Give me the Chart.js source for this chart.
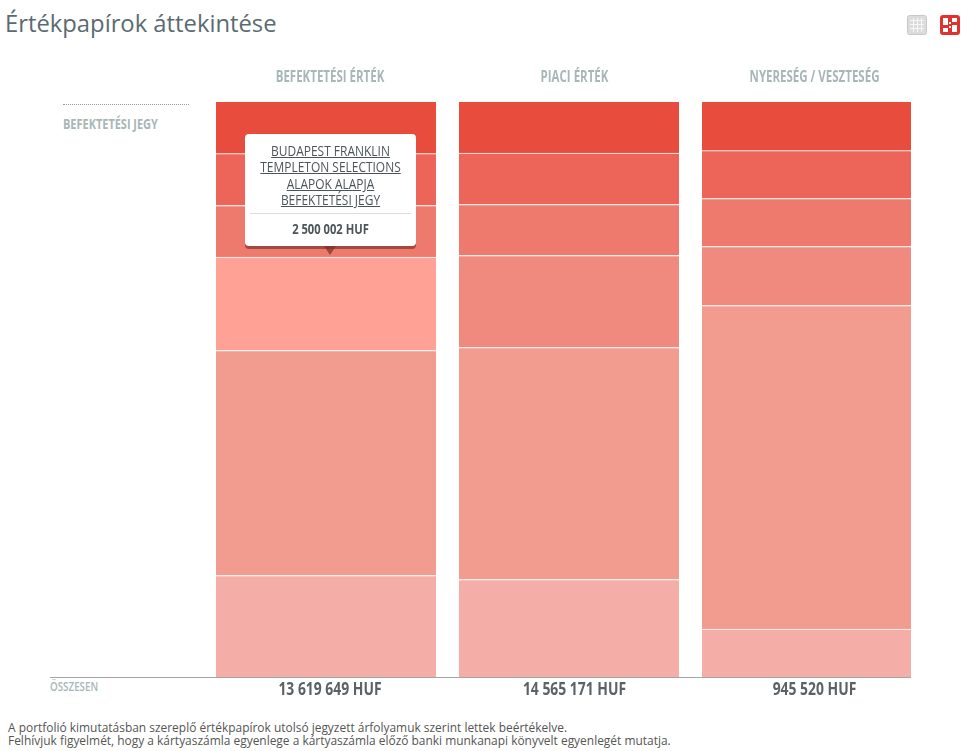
<!DOCTYPE html>
<html lang="hu">
<head>
<meta charset="utf-8">
<title>Értékpapírok áttekintése</title>
<script src="https://cdn.jsdelivr.net/npm/chart.js@4"></script>
<style>
    html, body { margin: 0; padding: 0; background: #fff; }
    body { position: relative; width: 964px; height: 751px; overflow: hidden; font-family: "Open Sans", sans-serif; }
    canvas { position: absolute; top: 60px; }
    .narrow { position: absolute; font-weight: bold; color: #a9b6b8; white-space: nowrap; transform-origin: left center; }
    #pageTitle { position: absolute; left: 5px; top: 7px; font-size: 23.8px; line-height: 33px; color: #5b6b72; }
    #icons { position: absolute; left: 906px; top: 14px; }
    #jegy { left: 63px; top: 115px; font-size: 15px; line-height: 16px; transform: scaleX(.73); }
    #dots { position: absolute; left: 63px; top: 104px; width: 126px; border-top: 1px dotted #999; }
    #osszesen { left: 50px; top: 679px; font-size: 13px; line-height: 15px; font-weight: 600; transform: scaleX(.754); }
    #baseline { position: absolute; left: 50px; top: 677px; width: 861px; height: 1px; background: #a5a5a5; }
    #note { position: absolute; left: 8px; top: 721px; font-size: 11.94px; line-height: 13px; color: #555; white-space: nowrap; }
    #tip { position: absolute; width: 171px; height: 112px; background: #fff; border-radius: 4px; box-shadow: 0 3px 0 rgba(120, 50, 40, .65); text-align: center; color: #4c5558; display: none; }
    #tip:after { content: ""; position: absolute; left: 79px; top: 112px; border: 6px solid transparent; border-top: 9px solid rgba(120, 50, 40, .7); border-bottom: 0; }
    #tipName { margin-top: 9px; height: 66px; font-size: 14px; line-height: 16.4px; text-decoration: underline; white-space: nowrap; transform: scaleX(.854); }
    #tipRule { margin: 4px 5px 0; border-top: 1px solid #ddd; }
    #tipValue { margin-top: 7px; font-size: 14px; line-height: 16px; font-weight: bold; white-space: nowrap; transform: scaleX(.8); }
</style>
</head>
<body>
<div id="pageTitle">Értékpapírok áttekintése</div>
<svg id="icons" width="54" height="22" viewBox="0 0 54 22">
    <rect x="1.500" y="1.500" width="19" height="19" rx="2" fill="#dcdcdc" stroke="#c9c9c9"/>
    <path d="M4 6.500h14M4 10.500h14M4 14.500h14M7.500 4v14M11.500 4v14M15.500 4v14" stroke="#f6f6f6" fill="none"/>
    <rect x="34" y="1" width="20" height="20" rx="3" fill="#e2322f"/>
    <path d="M37 4h5v7h-5zM46 4h5v4h-5zM37 14h5v4h-5zM46 11h5v7h-5zM43 8h2v2h-2zM43 12h2v2h-2z" fill="#fff"/>
</svg>
<div id="dots"></div>
<div id="jegy" class="narrow">BEFEKTETÉSI JEGY</div>
<div id="osszesen" class="narrow">ÖSSZESEN</div>

<canvas id="ertekChart" width="220" height="645" style="left:216px"></canvas>
<canvas id="piaciChart" width="220" height="645" style="left:459px"></canvas>
<canvas id="nyeresegChart" width="209" height="645" style="left:702px"></canvas>

<div id="baseline"></div>
<div id="note">A portfolió kimutatásban szereplő értékpapírok utolsó jegyzett árfolyamuk szerint lettek beértékelve.<br>Felhívjuk figyelmét, hogy a kártyaszámla egyenlege a kártyaszámla előző banki munkanapi könyvelt egyenlegét mutatja.</div>

<div id="tip">
    <div id="tipName"></div>
    <div id="tipRule"></div>
    <div id="tipValue"></div>
</div>

<script>
// share of each column in percent, bottom segment first
const columnTitles = ['BEFEKTETÉSI ÉRTÉK', 'PIACI ÉRTÉK', 'NYERESÉG / VESZTESÉG'];
const columnTotals = ['13 619 649 HUF', '14 565 171 HUF', '945 520 HUF'];
const ertekShares = [17.65, 39.13, 16.26, 8.96, 9.04, 8.96];
const piaciShares = [16.95, 40.35, 16.0, 8.87, 8.96, 8.87];
const nyeresegShares = [8.35, 56.26, 10.26, 8.35, 8.35, 8.43];
const segmentColors = ['#f4aea7', '#f29c90', '#f08a7e', '#ee7a6d', '#ec6558', '#e74c3c'];
const hoverColor = '#ffa195';
const tipLines = ['BUDAPEST FRANKLIN', 'TEMPLETON SELECTIONS', 'ALAPOK ALAPJA', 'BEFEKTETÉSI JEGY'];
const tipValue = '2 500 002 HUF';

// the labels sit a little right of the bars in the original, and no condensed font is installed
const labelShift = [4, 5.5, 8];

function squeezedText(ctx, text, x, y, font, color, squeeze) {
    ctx.save();
    ctx.translate(x, y);
    ctx.scale(squeeze, 1);
    ctx.font = font;
    ctx.fillStyle = color;
    ctx.textAlign = 'center';
    ctx.textBaseline = 'middle';
    ctx.fillText(text, 0, 0);
    ctx.restore();
}

const columnLabels = {
    id: 'columnLabels',
    afterDraw(chart, args, opts) {
        const x = chart.scales.x.getPixelForTick(0) + labelShift[opts.index];
        const area = chart.chartArea;
        squeezedText(chart.ctx, columnTitles[opts.index], x, area.top - 24,
            'bold 15.5px "Open Sans"', '#a9b6b8', 0.742);
        squeezedText(chart.ctx, columnTotals[opts.index], x, area.bottom + 13,
            'bold 17.5px "Open Sans"', '#5a6265', 0.794);
    }
};

function showTip(context) {
    const tip = document.getElementById('tip');
    const model = context.tooltip;
    if (model.opacity === 0) {
        tip.style.display = 'none';
        return;
    }
    const canvas = context.chart.canvas;
    document.getElementById('tipName').innerHTML = tipLines.join('<br>');
    document.getElementById('tipValue').textContent = tipValue;
    tip.style.display = 'block';
    tip.style.left = (canvas.offsetLeft + model.caretX + labelShift[0] - 85.5) + 'px';
    tip.style.top = (canvas.offsetTop + model.caretY - 123) + 'px';
}

function drawColumn(id, index, shares) {
    return new Chart(document.getElementById(id), {
        type: 'bar',
        data: {
            labels: [columnTotals[index]],
            datasets: shares.map((share, i) => ({
                label: 'Értékpapír ' + (i + 1),
                data: [share],
                backgroundColor: segmentColors[i],
                hoverBackgroundColor: hoverColor,
                borderColor: '#fff',
                hoverBorderColor: '#fff',
                borderWidth: i === shares.length - 1 ? 0 : { top: 1 },
                borderSkipped: false
            }))
        },
        plugins: [columnLabels],
        options: {
            responsive: false,
            animation: false,
            barPercentage: 1,
            categoryPercentage: 1,
            layout: { padding: { top: 42 } },
            plugins: {
                legend: { display: false },
                tooltip: { enabled: false, external: showTip },
                columnLabels: { index }
            },
            scales: {
                x: {
                    stacked: true,
                    border: { display: false },
                    grid: { display: false, drawTicks: false },
                    ticks: { display: false },
                    afterFit: scale => { scale.height = 28; }
                },
                y: { stacked: true, display: false, min: 0, max: 100 }
            }
        }
    });
}

const ertekChart = drawColumn('ertekChart', 0, ertekShares);
drawColumn('piaciChart', 1, piaciShares);
drawColumn('nyeresegChart', 2, nyeresegShares);

// the picture shows the fourth segment from the top hovered
const hovered = [{ datasetIndex: 2, index: 0 }];
ertekChart.setActiveElements(hovered);
ertekChart.tooltip.setActiveElements(hovered, { x: 110, y: 200 });
ertekChart.update();
</script>
</body>
</html>
